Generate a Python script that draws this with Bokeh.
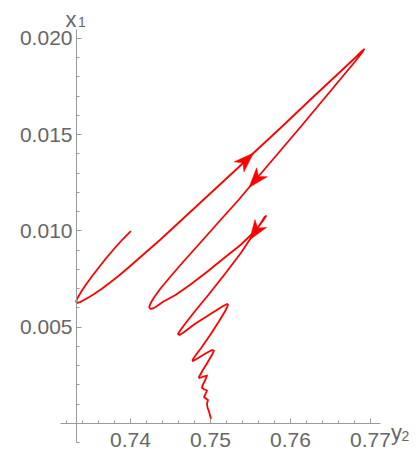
import math
from bokeh.plotting import figure
from bokeh.models import FixedTicker, NumeralTickFormatter, Label, Range1d
from bokeh.embed import file_html
from bokeh.resources import INLINE

# ---- data (parametric trajectory: y2 horizontal, x1 vertical)
y2 = [0.74004, 0.7390, 0.737875, 0.736875, 0.735938, 0.735125, 0.734438, 0.733938,
      0.733563, 0.733313, 0.7332,
      0.733375, 0.733688, 0.734125, 0.73475, 0.7355, 0.736375, 0.737375, 0.7385,
      0.73975, 0.74125,
      0.74375, 0.74625, 0.74875, 0.75125, 0.75375, 0.755375, 0.75875, 0.7625,
      0.76625, 0.768125, 0.768875, 0.769188, 0.769, 0.768125, 0.766875, 0.765625,
      0.76375, 0.76125, 0.75875, 0.75625, 0.754813,
      0.7535, 0.75125, 0.74875, 0.746625, 0.745, 0.74375, 0.742938,
      0.7426, 0.7424, 0.74235, 0.7425, 0.742788, 0.743188,
      0.744125, 0.745625, 0.7475, 0.749625, 0.751625, 0.75375, 0.755375, 0.75625,
      0.75675, 0.756938, 0.756813, 0.756375, 0.755813, 0.754875,
      0.75375, 0.75175, 0.749625, 0.748125, 0.747, 0.74625, 0.745938,
      0.746125, 0.746625, 0.748125, 0.75, 0.751375, 0.752063, 0.752188, 0.751875,
      0.751125, 0.75, 0.748875, 0.748125, 0.74775, 0.747813, 0.74825, 0.749375,
      0.750188, 0.750438, 0.75025, 0.749625, 0.748938, 0.748563, 0.748625, 0.749125,
      0.749563, 0.749375, 0.749, 0.748938, 0.74925, 0.749563, 0.749375, 0.749188,
      0.7495, 0.749688, 0.749563, 0.749625, 0.749813, 0.750063]
x1 = [0.009984, 0.009553, 0.009034, 0.008541, 0.008048, 0.007606, 0.007217, 0.006906,
      0.006646, 0.006464, 0.006334,
      0.006267, 0.006303, 0.006397, 0.006542, 0.006734, 0.006983, 0.007295, 0.007658,
      0.0081, 0.008645,
      0.009553, 0.010514, 0.011475, 0.012435, 0.013396, 0.014045, 0.015343, 0.016822,
      0.018276, 0.019003, 0.019315, 0.019429, 0.019289, 0.018821, 0.018198, 0.017575,
      0.016641, 0.015395, 0.014174, 0.012954, 0.012253,
      0.011604, 0.010566, 0.009398, 0.008411, 0.007632, 0.007009, 0.006542,
      0.006308, 0.006137, 0.006023, 0.005955, 0.005971, 0.006059,
      0.006334, 0.006672, 0.007217, 0.007892, 0.008567, 0.009268, 0.009917, 0.010358,
      0.010644, 0.010774, 0.010748, 0.010462, 0.010099, 0.009528,
      0.008827, 0.007736, 0.00662, 0.005867, 0.00527, 0.004855, 0.004647,
      0.004595, 0.004725, 0.005192, 0.005685, 0.006049, 0.006205, 0.006153, 0.005867,
      0.005348, 0.004621, 0.003946, 0.003531, 0.003297, 0.003245, 0.003349, 0.003634,
      0.003816, 0.00379, 0.003609, 0.003167, 0.0027, 0.002414, 0.002362, 0.00244,
      0.002492, 0.002285, 0.001973, 0.001843, 0.001765, 0.001713, 0.001532, 0.001376,
      0.001272, 0.00122, 0.001038, 0.000831, 0.000623, 0.000234]
arrow_at = [26, 41, 68]  # indices of path points carrying arrowheads

x_major = [0.74, 0.75, 0.76, 0.77]
x_minor = [0.732, 0.734, 0.736, 0.738, 0.742, 0.744, 0.746, 0.748, 0.752, 0.754,
           0.756, 0.758, 0.762, 0.764, 0.766, 0.768, 0.770]
y_major = [0.005, 0.010, 0.015, 0.020]
y_minor = [-0.001, 0.001, 0.002, 0.003, 0.004, 0.006, 0.007, 0.008, 0.009, 0.011,
           0.012, 0.013, 0.014, 0.016, 0.017, 0.018, 0.019]

# axis extents and crossing point
X_AXIS_BOUNDS = (0.73125, 0.77125)
Y_AXIS_BOUNDS = (-0.00099, 0.02046)
AXIS_X = 0.73325   # where the vertical axis crosses

# the frame covers the whole canvas so that outside texts are not clipped
W, H = 416, 456
X_START, X_END = 0.72375, 0.77575
Y_START, Y_END = -0.001713, 0.021963
SX = W / (X_END - X_START)
SY = H / (Y_END - Y_START)

RED = "#ff0000"
AX = "#9a9a9a"
TXT = "#666666"
FONT = "Liberation Sans"

p = figure(width=W, height=H, x_range=Range1d(X_START, X_END), y_range=Range1d(Y_START, Y_END),
           output_backend="svg", toolbar_location=None, min_border=0,
           min_border_left=0, min_border_right=0, min_border_top=0, min_border_bottom=0)
p.grid.visible = False
p.outline_line_color = None
p.background_fill_color = "white"
p.border_fill_color = "white"

p.line(y2, x1, line_color=RED, line_width=1.8, line_join="round")

# arrowheads built from the path direction (screen-space geometry)
L, HW, NOTCH = 20.0, 7.0, 5.5
hx, hy = [], []
for i in arrow_at:
    dx = (y2[i] - y2[i - 1]) * SX
    dy = (x1[i] - x1[i - 1]) * SY
    n = math.hypot(dx, dy)
    ux, uy = dx / n, dy / n
    px_, py_ = -uy, ux
    shape = [(0, 0), (-L, HW), (-(L - NOTCH), 0), (-L, -HW)]
    hx.append([y2[i] + (a * ux + b * px_) / SX for a, b in shape])
    hy.append([x1[i] + (a * uy + b * py_) / SY for a, b in shape])
p.patches(hx, hy, fill_color=RED, line_color=RED, line_width=0.5)

for ax in (p.xaxis, p.yaxis):
    ax.axis_line_color = AX
    ax.axis_line_width = 1
    ax.major_tick_line_color = AX
    ax.minor_tick_line_color = AX
    ax.major_tick_in = 5
    ax.major_tick_out = 0
    ax.minor_tick_in = 3
    ax.minor_tick_out = 0
    ax.major_label_text_color = TXT
    ax.major_label_text_font = FONT
    ax.major_label_text_font_size = "21px"

p.xaxis.fixed_location = 0
p.yaxis.fixed_location = AXIS_X
p.xaxis.bounds = X_AXIS_BOUNDS
p.yaxis.bounds = Y_AXIS_BOUNDS
p.xaxis.ticker = FixedTicker(ticks=x_major, minor_ticks=x_minor)
p.yaxis.ticker = FixedTicker(ticks=y_major, minor_ticks=y_minor)
p.xaxis.formatter = NumeralTickFormatter(format="0.00")
p.yaxis.formatter = NumeralTickFormatter(format="0.000")
p.xaxis.major_label_standoff = 9
p.yaxis.major_label_standoff = 4


def at(fx, fy):
    return X_START + fx / SX, Y_END - fy / SY


def lab(txt, fx, fy, size):
    x, y = at(fx, fy)
    p.add_layout(Label(x=x, y=y, text=txt, text_font=FONT, text_font_size=size,
                       text_color=TXT, text_align="left", text_baseline="alphabetic"))


lab("x", 65, 18.5, "22px")
lab("1", 77.5, 21, "14px")
lab("y", 390.5, 431.5, "22px")
lab("2", 401, 435, "14px")

open("out.html", "w").write(file_html(p, INLINE))
